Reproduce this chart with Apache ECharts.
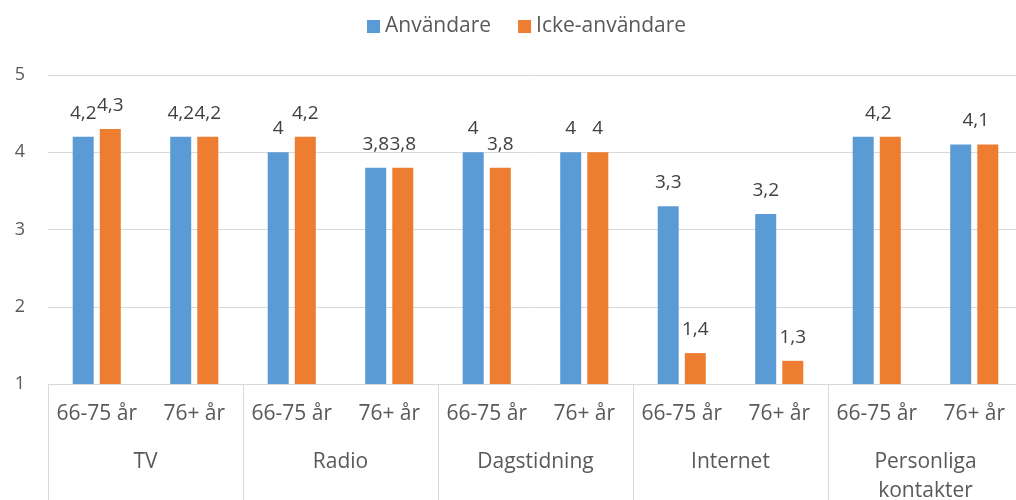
<!DOCTYPE html>
<html>
<head>
<meta charset="utf-8">
<script src="https://cdn.jsdelivr.net/npm/echarts@6/dist/echarts.min.js"></script>
<style>
  html, body { margin: 0; padding: 0; background: #fff; }
  #chart { width: 1016px; height: 500px; }
</style>
</head>
<body>
<div id="chart"></div>
<script>
// Media groups and age brackets (two-level category axis)
const groups = ['TV', 'Radio', 'Dagstidning', 'Internet', 'Personliga kontakter'];
const ageBrackets = ['66-75 år', '76+ år'];
const seriesNames = ['Användare', 'Icke-användare'];

// Average ratings per group, in age-bracket order
const users    = [4.2, 4.2, 4.0, 3.8, 4.0, 4.0, 3.3, 3.2, 4.2, 4.1];
const nonUsers = [4.3, 4.2, 4.2, 3.8, 3.8, 4.0, 1.4, 1.3, 4.2, 4.1];

const yTicks = { min: 1, max: 5, interval: 1 };

const categories = [];
groups.forEach(() => ageBrackets.forEach(a => categories.push(a)));

const textColor = '#595959';
const lineColor = '#d9d9d9';
const font = 'Open Sans';

const fmt = v => String(v).replace('.', ',');

// The last group shows a single shared label per bracket
const lastGroupStart = (groups.length - 1) * ageBrackets.length;

function buildData(values, isUsers) {
  return values.map((v, i) => {
    if (i < lastGroupStart) return v;
    return isUsers
      ? { value: v, label: { offset: [15, 0] } }
      : { value: v, label: { show: false } };
  });
}

const labelStyle = {
  show: true,
  position: 'top',
  distance: 14,
  color: '#404040',
  fontFamily: font,
  fontSize: 19,
  formatter: p => fmt(p.value)
};

const chart = echarts.init(document.getElementById('chart'));
chart.setOption({
  animation: false,
  legend: {
    top: 11,
    left: 362,
    itemWidth: 13,
    itemHeight: 13,
    itemGap: 27,
    icon: 'rect',
    textStyle: { color: textColor, fontFamily: font, fontSize: 21 },
    data: seriesNames
  },
  grid: { left: 48, top: 75, bottom: 116, width: 975, outerBoundsMode: 'none' },
  xAxis: [
    {
      type: 'category',
      position: 'bottom',
      data: categories,
      axisLine: { show: true, lineStyle: { color: lineColor, width: 1 } },
      axisTick: { show: false },
      axisLabel: {
        color: textColor, fontFamily: font, fontSize: 21,
        margin: 20, interval: 0
      }
    },
    {
      type: 'category',
      position: 'bottom',
      data: groups,
      axisLine: { show: false },
      axisTick: { show: true, length: 120, lineStyle: { color: lineColor, width: 1 } },
      axisLabel: {
        color: textColor, fontFamily: font, fontSize: 21, lineHeight: 29,
        margin: 64, interval: 0,
        formatter: v => v.replace(' ', '\n')
      }
    }
  ],
  yAxis: {
    type: 'value',
    min: yTicks.min,
    max: yTicks.max,
    interval: yTicks.interval,
    axisLine: { show: false },
    axisTick: { show: false },
    splitLine: { lineStyle: { color: lineColor, width: 1 } },
    axisLabel: { color: textColor, fontFamily: font, fontSize: 18, margin: 23 }
  },
  series: [
    {
      name: seriesNames[0],
      type: 'bar',
      xAxisIndex: 0,
      barWidth: 21,
      barGap: '29%',
      itemStyle: { color: '#5B9BD5' },
      label: labelStyle,
      data: buildData(users, true)
    },
    {
      name: seriesNames[1],
      type: 'bar',
      xAxisIndex: 0,
      barWidth: 21,
      itemStyle: { color: '#ED7D31' },
      label: labelStyle,
      data: buildData(nonUsers, false)
    }
  ]
});
</script>
</body>
</html>
